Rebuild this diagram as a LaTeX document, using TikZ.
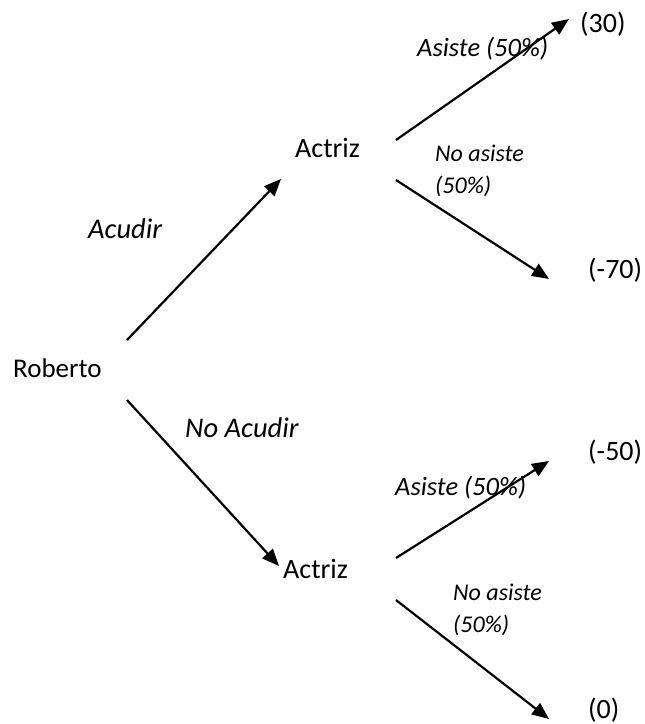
\documentclass[tikz,border=0pt]{standalone}
\usepackage{fontspec}
\setmainfont{Carlito}
\usetikzlibrary{arrows.meta}
\tikzset{
  player/.style={inner sep=0pt, anchor=base west, font=\fontsize{28}{32}\selectfont},
  payoff/.style={inner sep=0pt, anchor=base west, font=\fontsize{28}{32}\selectfont},
  lbl/.style={inner sep=0pt, anchor=base west, align=left, font=\fontsize{24}{32}\selectfont\itshape},
  movelbl/.style={lbl, font=\fontsize{28.5}{32}\selectfont\itshape},
  yeslbl/.style={lbl, font=\fontsize{26.5}{32}\selectfont\itshape},
  branch/.style={line width=2.2pt, -{Triangle[length=17pt,width=14pt]}}
}
\begin{document}
\begin{tikzpicture}[x=1pt,y=-1pt]
\useasboundingbox (0,0) rectangle (645,724);
% players
\node[player, font=\fontsize{27}{32}\selectfont] (rob) at (13,377) {Roberto};
\node[player] (act1) at (295,157) {Actriz};
\node[player] (act2) at (283,578) {Actriz};
% payoffs
\node[payoff] (p30) at (580,32) {(30)};
\node[payoff] (p70) at (588,278) {(-70)};
\node[payoff] (p50) at (588,460) {(-50)};
\node[payoff] (p0) at (588,718) {(0)};
% labels
\node[movelbl] (lacu) at (88,238) {Acudir};
\node[movelbl] (lnoacu) at (185,437) {No Acudir};
\node[yeslbl] (las1) at (417,56) {Asiste (50\%)};
\node[lbl] (lnas1) at (435,193) {No asiste\\(50\%)};
\node[yeslbl] (las2) at (395,495) {Asiste (50\%)};
\node[lbl] (lnas2) at (453,632) {No asiste\\(50\%)};
% connector ends
\coordinate (r1) at (127,340);
\coordinate (r2) at (127,400);
\coordinate (a1) at (281,179);
\coordinate (a2) at (279,566);
\coordinate (a1s) at (396,140);
\coordinate (a1n) at (396,180);
\coordinate (a2s) at (396,558);
\coordinate (a2n) at (396,600);
\coordinate (e30) at (569,19);
\coordinate (e70) at (549,279);
\coordinate (e50) at (549,461);
\coordinate (e0) at (549,719);
% branches
\draw[branch] (r1) -- (a1);
\draw[branch] (r2) -- (a2);
\draw[branch] (a1s) -- (e30);
\draw[branch] (a1n) -- (e70);
\draw[branch] (a2s) -- (e50);
\draw[branch] (a2n) -- (e0);
\end{tikzpicture}
\end{document}
